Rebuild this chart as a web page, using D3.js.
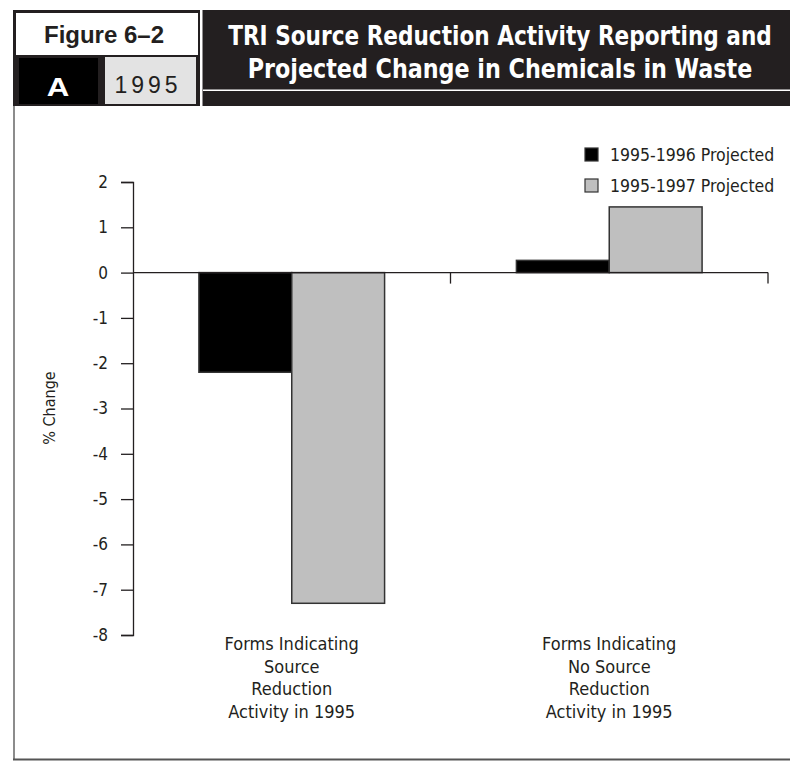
<!DOCTYPE html>
<html>
<head>
<meta charset="utf-8">
<script src="https://cdn.jsdelivr.net/npm/d3@7"></script>
<style>
  body { margin: 0; background: #fff; }
  svg text { font-family: "Liberation Sans Narrow", "DejaVu Sans Condensed", "Roboto Condensed", sans-serif; fill: #231f20; }
  .hdr { font-family: "Liberation Sans", Arial, sans-serif; }
</style>
</head>
<body>
<svg class="chartSVG" width="790" height="761"></svg>
<script>
// data
const categories = [
  ['Forms Indicating', 'Source', 'Reduction', 'Activity in 1995'],
  ['Forms Indicating', 'No Source', 'Reduction', 'Activity in 1995']
];
const seriesNames = ['1995-1996 Projected', '1995-1997 Projected'];
const projected9596 = [-2.2, 0.27];
const projected9597 = [-7.3, 1.45];
const yTicks = [2, 1, 0, -1, -2, -3, -4, -5, -6, -7, -8];

const svg = d3.select('svg.chartSVG');
const seriesCols = ['#000000', '#bfbfbf'];

// header block
const hdr = svg.append('g').attr('class', 'header');
hdr.append('rect').attr('x', 13).attr('y', 10).attr('width', 777).attr('height', 96).style('fill', '#231f20');
hdr.append('rect').attr('x', 16).attr('y', 13).attr('width', 182).attr('height', 42).style('fill', '#fff');
hdr.append('rect').attr('x', 19).attr('y', 58).attr('width', 79).attr('height', 46).style('fill', '#000');
hdr.append('rect').attr('x', 105).attr('y', 57).attr('width', 91).attr('height', 47).style('fill', '#e3e3e3');
hdr.append('rect').attr('x', 200).attr('y', 10).attr('width', 2.5).attr('height', 96).style('fill', '#fff');
hdr.append('rect').attr('x', 203).attr('y', 89.5).attr('width', 587).attr('height', 1.5).style('fill', '#fff');

hdr.append('text').attr('class', 'hdr')
    .attr('x', 104).attr('y', 43)
    .style('text-anchor', 'middle').style('font-size', '24px').style('font-weight', 'bold')
    .text('Figure 6–2');
hdr.append('text').attr('class', 'hdr')
    .attr('x', 58).attr('y', 96)
    .style('text-anchor', 'middle').style('font-size', '25px').style('font-weight', 'bold')
    .style('fill', '#fff').attr('transform', 'translate(58,0) scale(1.25,1) translate(-58,0)')
    .text('A');
hdr.append('text').attr('class', 'hdr')
    .attr('x', 148).attr('y', 93)
    .style('text-anchor', 'middle').style('font-size', '23px').style('letter-spacing', '4px')
    .text('1995');

// title, squeezed horizontally to the condensed width of the original
const titleLines = ['TRI Source Reduction Activity Reporting and', 'Projected Change in Chemicals in Waste'];
const titleWidths = [544, 505];
hdr.selectAll('text.title')
    .data(titleLines)
    .enter()
    .append('text')
    .attr('class', 'title')
    .attr('x', 0)
    .attr('y', 0)
    .style('text-anchor', 'middle')
    .style('font-size', '27px')
    .style('font-weight', 'bold')
    .style('fill', '#fff')
    .text(d => d)
    .attr('transform', function(d, i){
      const w = this.getComputedTextLength();
      const k = Math.min(1, titleWidths[i] / w);
      return `translate(500,${45 + i * 33}) scale(${k},1)`;
    });

// frame lines
svg.append('line').attr('x1', 14).attr('x2', 14).attr('y1', 106).attr('y2', 760)
    .style('stroke', '#666').style('stroke-width', 1.5);
svg.append('line').attr('x1', 13).attr('x2', 790).attr('y1', 759.5).attr('y2', 759.5)
    .style('stroke', '#555').style('stroke-width', 2);

// scales
const x0 = d3.scaleBand().domain(d3.range(categories.length)).range([133, 768]).paddingInner(0).paddingOuter(0);
const x1 = d3.scaleBand().domain(d3.range(seriesNames.length)).range([0, x0.bandwidth()]).paddingOuter(0.71).paddingInner(0);
const y = d3.scaleLinear().domain([-8, 2]).range([635, 182]);

// bars
const barData = [];
categories.forEach((c, i) => {
  barData.push({cat: i, s: 0, v: projected9596[i]});
  barData.push({cat: i, s: 1, v: projected9597[i]});
});

svg.append('g')
    .attr('class', 'bars')
    .selectAll('rect')
    .data(barData)
    .enter()
    .append('rect')
    .attr('x', d => x0(d.cat) + x1(d.s))
    .attr('width', x1.bandwidth())
    .attr('y', d => y(Math.max(0, d.v)))
    .attr('height', d => Math.abs(y(d.v) - y(0)))
    .style('fill', d => seriesCols[d.s])
    .style('stroke', '#333')
    .style('stroke-width', 1.5);

// y axis
const yAxis = svg.append('g')
    .attr('class', 'yAxis')
    .attr('transform', 'translate(133,0)')
    .call(d3.axisLeft(y).tickValues(yTicks).tickSize(12).tickPadding(13).tickFormat(d => String(d)));
yAxis.select('.domain').style('stroke', '#231f20').style('stroke-width', 1.3);
yAxis.selectAll('.tick line').style('stroke', '#231f20').style('stroke-width', 1.3);
yAxis.selectAll('.tick text')
    .style('font-size', '17px')
    .style('font-family', '"Liberation Sans Narrow", "DejaVu Sans Condensed", sans-serif')
    .style('fill', '#231f20');

// x axis along zero
const xAxis = svg.append('g')
    .attr('class', 'xAxis')
    .attr('transform', `translate(0,${y(0)})`);
xAxis.append('line')
    .attr('x1', 133).attr('x2', 768)
    .style('stroke', '#231f20').style('stroke-width', 1.3);
xAxis.selectAll('line.catTick')
    .data(d3.range(categories.length))
    .enter()
    .append('line')
    .attr('class', 'catTick')
    .attr('x1', d => x0(d) + x0.bandwidth())
    .attr('x2', d => x0(d) + x0.bandwidth())
    .attr('y1', 0).attr('y2', 11)
    .style('stroke', '#231f20').style('stroke-width', 1.3);

// category labels below plot
const catLabels = svg.append('g').attr('class', 'catLabels');
categories.forEach((lines, i) => {
  catLabels.append('g')
    .selectAll('text')
    .data(lines)
    .enter()
    .append('text')
    .attr('x', x0(i) + x0.bandwidth() / 2)
    .attr('y', (d, j) => 650 + j * 22.7)
    .style('text-anchor', 'middle')
    .style('font-size', '18px')
    .text(d => d);
});

// y axis title
svg.append('text')
    .attr('transform', 'translate(55,408) rotate(-90)')
    .style('text-anchor', 'middle')
    .style('font-size', '16px')
    .text('% Change');

// legend
const leg = svg.append('g').attr('class', 'legend')
    .selectAll('g')
    .data(seriesNames)
    .enter()
    .append('g')
    .attr('transform', (d, i) => `translate(585,${148 + i * 31})`);
leg.append('rect')
    .attr('width', 13).attr('height', 13)
    .style('fill', (d, i) => seriesCols[i])
    .style('stroke', '#333').style('stroke-width', 1.2);
leg.append('text')
    .attr('x', 25).attr('y', 12.5)
    .style('font-size', '17.5px')
    .text(d => d);
</script>
</body>
</html>
